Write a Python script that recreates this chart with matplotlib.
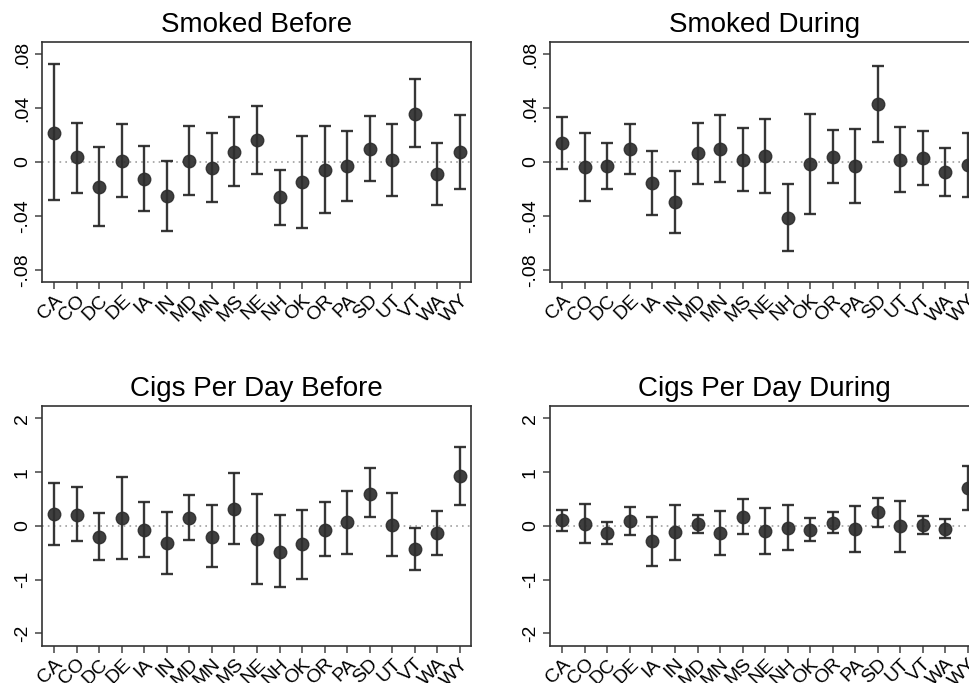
import matplotlib
matplotlib.use("Agg")
from matplotlib import pyplot as plt
import matplotlib.ticker as ticker
import numpy as np

plt.rcParams['font.family'] = ['Liberation Sans', 'DejaVu Sans']

states = ['CA', 'CO', 'DC', 'DE', 'IA', 'IN', 'MD', 'MN', 'MS', 'NE',
          'NH', 'OK', 'OR', 'PA', 'SD', 'UT', 'VT', 'WA', 'WY']

# Smoked Before
sb_est = [0.0218, 0.0035, -0.0183, 0.0007, -0.0126, -0.0253, 0.0007, -0.0045, 0.0077, 0.0166,
          -0.0262, -0.0146, -0.0062, -0.0030, 0.0099, 0.0012, 0.0359, -0.0092, 0.0077]
sb_hi = [0.0728, 0.0292, 0.0109, 0.0285, 0.0119, 0.0005, 0.0265, 0.0218, 0.0334, 0.0416,
         -0.0062, 0.0196, 0.0265, 0.0228, 0.0339, 0.0280, 0.0612, 0.0144, 0.0352]
sb_lo = [-0.0285, -0.0228, -0.0473, -0.0262, -0.0362, -0.0508, -0.0243, -0.0297, -0.0176, -0.0087,
         -0.0466, -0.0493, -0.0381, -0.0287, -0.0141, -0.0250, 0.0111, -0.0317, -0.0201]

# Smoked During
sd_est = [0.0144, -0.0040, -0.0030, 0.0099, -0.0159, -0.0297, 0.0064, 0.0099, 0.0015, 0.0045,
          -0.0414, -0.0015, 0.0037, -0.0032, 0.0431, 0.0017, 0.0027, -0.0077, -0.0020]
sd_hi = [0.0337, 0.0213, 0.0139, 0.0285, 0.0079, -0.0067, 0.0290, 0.0352, 0.0253, 0.0320,
         -0.0163, 0.0357, 0.0235, 0.0245, 0.0713, 0.0260, 0.0233, 0.0104, 0.0215]
sd_lo = [-0.0050, -0.0292, -0.0198, -0.0089, -0.0396, -0.0525, -0.0161, -0.0151, -0.0215, -0.0230,
         -0.0661, -0.0384, -0.0156, -0.0305, 0.0151, -0.0223, -0.0171, -0.0250, -0.0258]

# Cigs Per Day Before
cb_est = [0.22, 0.21, -0.21, 0.14, -0.07, -0.32, 0.15, -0.20, 0.32, -0.24,
          -0.48, -0.34, -0.07, 0.07, 0.60, 0.02, -0.44, -0.14, 0.93]
cb_hi = [0.79, 0.72, 0.23, 0.91, 0.44, 0.25, 0.58, 0.38, 0.98, 0.59,
         0.20, 0.30, 0.44, 0.65, 1.07, 0.61, -0.04, 0.27, 1.47]
cb_lo = [-0.35, -0.29, -0.64, -0.62, -0.58, -0.90, -0.27, -0.77, -0.33, -1.08,
         -1.13, -0.98, -0.57, -0.52, 0.16, -0.57, -0.83, -0.54, 0.39]

# Cigs Per Day During
cd_est = [0.10, 0.04, -0.13, 0.09, -0.28, -0.12, 0.04, -0.14, 0.17, -0.10,
          -0.04, -0.07, 0.06, -0.06, 0.25, -0.01, 0.02, -0.05, 0.71]
cd_hi = [0.29, 0.40, 0.07, 0.35, 0.17, 0.38, 0.21, 0.28, 0.50, 0.33,
         0.38, 0.15, 0.25, 0.37, 0.52, 0.46, 0.19, 0.12, 1.12]
cd_lo = [-0.10, -0.32, -0.33, -0.17, -0.74, -0.63, -0.14, -0.55, -0.15, -0.52,
         -0.45, -0.29, -0.14, -0.48, -0.02, -0.48, -0.15, -0.22, 0.30]

panels = [
    ("Smoked Before", sb_est, sb_lo, sb_hi, [-0.08, -0.04, 0, 0.04, 0.08], 0.089),
    ("Smoked During", sd_est, sd_lo, sd_hi, [-0.08, -0.04, 0, 0.04, 0.08], 0.089),
    ("Cigs Per Day Before", cb_est, cb_lo, cb_hi, [-2, -1, 0, 1, 2], 2.23),
    ("Cigs Per Day During", cd_est, cd_lo, cd_hi, [-2, -1, 0, 1, 2], 2.23),
]

# axes boxes in figure fractions (right column runs off the page like the original)
boxes = [
    [0.0433, 0.5871, 0.4427, 0.3514],
    [0.5676, 0.5871, 0.4427, 0.3514],
    [0.0433, 0.0546, 0.4427, 0.3510],
    [0.5676, 0.0546, 0.4427, 0.3510],
]


def fmt_tick(v, pos):
    if v == 0:
        return "0"
    if abs(v) < 1:
        s = ("%.2f" % v).replace("0.", ".")
        return s
    return "%d" % v


fig = plt.figure(figsize=(9.69, 6.83), dpi=100, facecolor='w')

x = np.arange(1, len(states) + 1)
dark = '#2e2e2e'

for (title, est, lo, hi, yt, lim), box in zip(panels, boxes):
    ax = fig.add_axes(box)
    est = np.array(est)
    yerr = [est - np.array(lo), np.array(hi) - est]
    ax.axhline(0, color='#a0a0a0', linestyle=(0, (1, 2.5)), linewidth=1.2, zorder=1)
    ax.errorbar(x, est, yerr=yerr, fmt='o', color=dark, ecolor='#262626',
                markersize=9, elinewidth=1.7, capsize=4, capthick=1.7,
                alpha=0.92, zorder=3)
    ax.set_xlim(0.45, 19.5)
    ax.set_ylim(-lim, lim)
    ax.set_yticks(yt)
    ax.yaxis.set_major_formatter(ticker.FuncFormatter(fmt_tick))
    ax.set_xticks(x)
    ax.set_xticklabels(states, rotation=45, ha='right', rotation_mode='anchor')
    for lab in ax.get_yticklabels():
        lab.set_rotation(90)
        lab.set_va('center')
    ax.tick_params(axis='both', direction='out', length=5, width=1.1,
                   color='#444444', labelsize=14, pad=3)
    ax.tick_params(axis='x', pad=2)
    for sp in ax.spines.values():
        sp.set_color('#333333')
        sp.set_linewidth(1.2)
    ax.set_title(title, fontsize=20, pad=7)

fig.savefig('out.png', dpi=100, facecolor='w')
